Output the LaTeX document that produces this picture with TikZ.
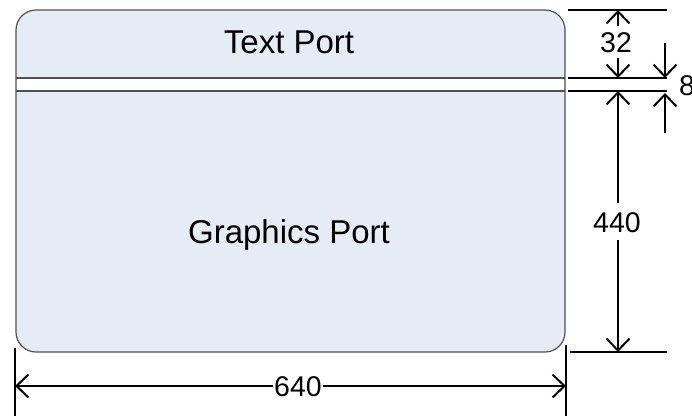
\documentclass[tikz,border=0pt]{standalone}
\usepackage{fontspec}
\setmainfont{Liberation Sans}
\usetikzlibrary{arrows.meta}
\definecolor{portfill}{RGB}{230,236,246}
\definecolor{portline}{RGB}{80,80,80}
\begin{document}
\begin{tikzpicture}[x=1pt,y=-1pt,
  extline/.style={line width=2pt},
  dimarrow/.style={line width=2pt,-{Straight Barb[length=12pt,width=23pt]}},
  lbl/.style={font=\fontsize{33}{38}\selectfont, inner sep=0pt, anchor=base},
  num/.style={font=\fontsize{28.5}{32}\selectfont, inner sep=0pt, anchor=base},
  portedge/.style={portline,line width=1.2pt}]
\useasboundingbox (0,0) rectangle (692,416);
% port box
\fill[portfill,rounded corners=20pt] (16,10) rectangle (565,352);
\fill[white] (16,78) rectangle (565,91);
\draw[portedge] (16,78) -- (565,78) (16,91) -- (565,91);
\draw[portedge,rounded corners=20pt] (16,10) rectangle (565,352);
\node[lbl] (textport) at (289,53) {Text Port};
\node[lbl] (gfxport) at (289,243) {Graphics Port};
% extension lines
\coordinate (e1a) at (568,10);  \coordinate (e1b) at (667,10);
\coordinate (e2a) at (568,78);  \coordinate (e2b) at (667,78);
\coordinate (e3a) at (568,91);  \coordinate (e3b) at (667,91);
\coordinate (e4a) at (570,352); \coordinate (e4b) at (667,352);
\coordinate (e5a) at (15,348);  \coordinate (e5b) at (15,416);
\coordinate (e6a) at (566,345); \coordinate (e6b) at (566,416);
\draw[extline] (e1a) -- (e1b) (e2a) -- (e2b) (e3a) -- (e3b) (e4a) -- (e4b)
  (e5a) -- (e5b) (e6a) -- (e6b);
% 32
\node[num] (n32) at (616,52) {32};
\coordinate (a32t) at (618,26);  \coordinate (a32h) at (618,10);
\coordinate (b32t) at (618,58);  \coordinate (b32h) at (618,78);
\draw[dimarrow] (a32t) -- (a32h);
\draw[dimarrow] (b32t) -- (b32h);
% 8
\node[num,anchor=base west] (n8) at (679,95) {8};
\coordinate (a8t) at (665,43);  \coordinate (a8h) at (665,78);
\coordinate (b8t) at (665,133); \coordinate (b8h) at (665,93);
\draw[dimarrow] (a8t) -- (a8h);
\draw[dimarrow] (b8t) -- (b8h);
% 440
\node[num] (n440) at (617,232) {440};
\coordinate (a440t) at (618,203); \coordinate (a440h) at (618,91);
\coordinate (b440t) at (618,240); \coordinate (b440h) at (618,352);
\draw[dimarrow] (a440t) -- (a440h);
\draw[dimarrow] (b440t) -- (b440h);
% 640
\node[num] (n640) at (298,396) {640};
\coordinate (a640t) at (273,386); \coordinate (a640h) at (15,386);
\coordinate (b640t) at (323,386); \coordinate (b640h) at (566,386);
\draw[dimarrow] (a640t) -- (a640h);
\draw[dimarrow] (b640t) -- (b640h);
\end{tikzpicture}
\end{document}
